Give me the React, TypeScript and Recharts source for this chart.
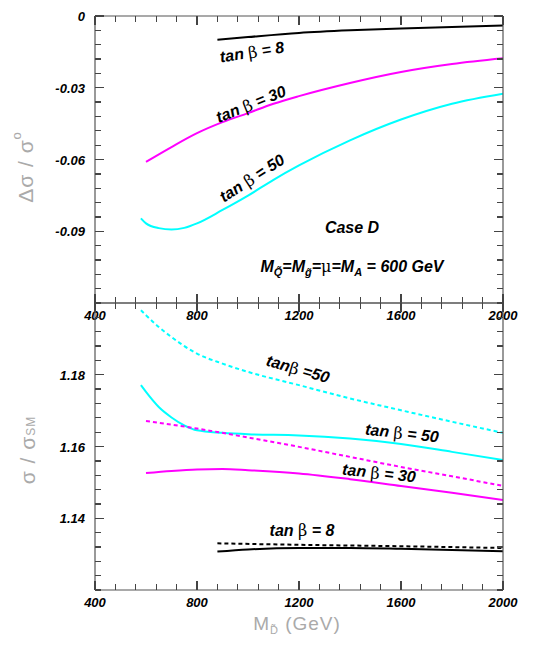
import React from "react";
import { LineChart, Line, XAxis, YAxis } from "recharts";

// ---------- data ----------
const xTicks = [400, 480, 560, 640, 720, 800, 880, 960, 1040, 1120, 1200, 1280, 1360, 1440, 1520, 1600, 1680, 1760, 1840, 1920, 2000];
const xLabels = [400, 800, 1200, 1600, 2000];

const topYTicks = Array.from({ length: 21 }, (_, i) => +(-0.12 + i * 0.006).toFixed(3));
const topYLabels = [0, -0.03, -0.06, -0.09];
const botYTicks = Array.from({ length: 21 }, (_, i) => +(1.12 + i * 0.004).toFixed(3));
const botYLabels = [1.14, 1.16, 1.18];

// top panel: Δσ/σ°
const topTb8X = [880, 1000, 1200, 1400, 1600, 1800, 2000];
const topTb8Y = [-0.0099, -0.0088, -0.0071, -0.006, -0.0052, -0.0046, -0.004];
const topTb30X = [600, 700, 800, 900, 1000, 1100, 1200, 1400, 1600, 1800, 2000];
const topTb30Y = [-0.061, -0.0548, -0.049, -0.0444, -0.0406, -0.0367, -0.0335, -0.028, -0.0234, -0.0201, -0.0177];
const topTb50X = [580, 600, 650, 700, 750, 800, 900, 1000, 1100, 1200, 1400, 1600, 1800, 2000];
const topTb50Y = [-0.0846, -0.0867, -0.0887, -0.0893, -0.0886, -0.0867, -0.0811, -0.0751, -0.0685, -0.0625, -0.052, -0.0433, -0.0367, -0.0325];

// bottom panel: σ/σSM
const bot50dX = [580, 600, 650, 700, 800, 900, 1000, 1200, 1400, 1600, 1800, 2000];
const bot50dY = [1.198, 1.1966, 1.1933, 1.1905, 1.1859, 1.1831, 1.1808, 1.1771, 1.1734, 1.1701, 1.1669, 1.1638];
const bot50sX = [580, 600, 650, 700, 750, 800, 900, 1000, 1200, 1400, 1600, 1800, 2000];
const bot50sY = [1.1771, 1.1752, 1.171, 1.1681, 1.1659, 1.1645, 1.1638, 1.1634, 1.1631, 1.1622, 1.1607, 1.1585, 1.1562];
const bot30dX = [600, 800, 1000, 1200, 1400, 1600, 1800, 2000];
const bot30dY = [1.1671, 1.165, 1.1625, 1.1599, 1.1571, 1.1543, 1.1517, 1.149];
const bot30sX = [600, 700, 800, 900, 1000, 1200, 1400, 1600, 1800, 2000];
const bot30sY = [1.1526, 1.1532, 1.1536, 1.1537, 1.1534, 1.1525, 1.1509, 1.149, 1.1471, 1.1451];
const bot8dX = [880, 1200, 1600, 2000];
const bot8dY = [1.133, 1.1326, 1.1322, 1.1317];
const bot8sX = [880, 1000, 1200, 1400, 1600, 2000];
const bot8sY = [1.1307, 1.1313, 1.1317, 1.1317, 1.1315, 1.1308];

const zip = (xs: number[], ys: number[]) => xs.map((x, i) => ({ x, y: ys[i] }));

// ---------- styles ----------
const FONT = "'Liberation Sans', Arial, Helvetica, sans-serif";
const FRAME = "#555";
const TICK = "#444";
const CYAN = "#00ffff";
const MAGENTA = "#ff00ff";
const MAJ = 9;
const MIN = 6;

const isLabel = (list: number[], v: number) => list.some((l) => Math.abs(l - v) < 1e-9);
const fmtY = (v: number) => (v === 0 ? "0" : v.toFixed(2));

const tickLineStyle = { stroke: TICK, strokeWidth: 1.3, shapeRendering: "crispEdges" as const };

const BottomXTick = (props: any) => {
  const { x, y, payload, showLabel } = props;
  const v = payload.value;
  const major = isLabel(xLabels, v);
  return (
    <g>
      <line x1={x} x2={x} y1={y} y2={y - (major ? MAJ : MIN)} {...tickLineStyle} />
      {showLabel && major && (
        <text x={x} y={y + 17} textAnchor="middle" fontFamily={FONT} fontWeight="bold" fontStyle="italic" fontSize={13} fill="#000">
          {v}
        </text>
      )}
    </g>
  );
};

const TopXTick = (props: any) => {
  const { x, y, payload } = props;
  const major = isLabel(xLabels, payload.value);
  return (
    <g>
      <line x1={x} x2={x} y1={y} y2={y + (major ? MAJ : MIN)} {...tickLineStyle} />
    </g>
  );
};

const makeLeftTick = (labels: number[]) => (props: any) => {
  const { x, y, payload } = props;
  const v = payload.value;
  const lab = isLabel(labels, v);
  return (
    <g>
      <line x1={x} x2={x + (lab ? MAJ : MIN)} y1={y} y2={y} {...tickLineStyle} />
      {lab && (
        <text x={x - 10} y={y + 5} textAnchor="end" fontFamily={FONT} fontWeight="bold" fontStyle="italic" fontSize={13} fill="#000">
          {fmtY(v)}
        </text>
      )}
    </g>
  );
};

const makeRightTick = (labels: number[]) => (props: any) => {
  const { x, y, payload } = props;
  const lab = isLabel(labels, payload.value);
  return (
    <g>
      <line x1={x} x2={x - (lab ? MAJ : MIN)} y1={y} y2={y} {...tickLineStyle} />
    </g>
  );
};

const TopLeftTick = makeLeftTick(topYLabels);
const TopRightTick = makeRightTick(topYLabels);
const BotLeftTick = makeLeftTick(botYLabels);
const BotRightTick = makeRightTick(botYLabels);

const lineProps = {
  dataKey: "y",
  type: "monotone" as const,
  dot: false,
  isAnimationActive: false,
  strokeWidth: 2,
  activeDot: false as const,
};

const axisCommon = {
  tickSize: 0,
  tickMargin: 0,
  axisLine: { stroke: FRAME, strokeWidth: 1.2 },
  tickLine: false,
  interval: 0 as const,
  allowDataOverflow: true,
};

const Frame = ({ yDomain, yTicks, LeftTick, RightTick }: any) => [
  <XAxis key="xb" xAxisId="b" type="number" dataKey="x" domain={[400, 2000]} ticks={xTicks} height={1} tick={<BottomXTick showLabel />} {...axisCommon} />,
  <XAxis key="xt" xAxisId="t" orientation="top" type="number" dataKey="x" domain={[400, 2000]} ticks={xTicks} height={1} tick={<TopXTick />} {...axisCommon} />,
  <YAxis key="yl" yAxisId="l" type="number" domain={yDomain} ticks={yTicks} width={1} tick={<LeftTick />} {...axisCommon} />,
  <YAxis key="yr" yAxisId="r" orientation="right" type="number" domain={yDomain} ticks={yTicks} width={1} tick={<RightTick />} {...axisCommon} />,
];

const Annot = ({ x, y, angle = 0, children, size = 16 }: any) => (
  <text
    x={x}
    y={y}
    textAnchor="middle"
    dominantBaseline="central"
    transform={`rotate(${angle} ${x} ${y})`}
    fontFamily={FONT}
    fontWeight="bold"
    fontStyle="italic"
    fontSize={size}
    fill="#000"
  >
    {children}
  </text>
);

const Beta = () => (
  <tspan fontFamily="'DejaVu Serif', 'Liberation Serif', serif" fontStyle="normal" fontWeight="normal">
    β
  </tspan>
);

export default function App() {
  return (
    <div style={{ position: "absolute", left: 0, top: 0, width: 545, height: 659, background: "#fff" }}>
      {/* top panel */}
      <div style={{ position: "absolute", left: 0, top: 0 }}>
        <LineChart width={545} height={330} margin={{ top: 15, right: 41, bottom: 26, left: 94 }}>
          {Frame({ yDomain: [-0.12, 0], yTicks: topYTicks, LeftTick: TopLeftTick, RightTick: TopRightTick })}
          <Line {...lineProps} xAxisId="b" yAxisId="l" data={zip(topTb8X, topTb8Y)} stroke="#000" />
          <Line {...lineProps} xAxisId="b" yAxisId="l" data={zip(topTb30X, topTb30Y)} stroke={MAGENTA} />
          <Line {...lineProps} xAxisId="b" yAxisId="l" data={zip(topTb50X, topTb50Y)} stroke={CYAN} />
        </LineChart>
      </div>

      {/* bottom panel */}
      <div style={{ position: "absolute", left: 0, top: 290 }}>
        <LineChart width={545} height={330} margin={{ top: 12, right: 41, bottom: 29, left: 94 }}>
          {Frame({ yDomain: [1.12, 1.2], yTicks: botYTicks, LeftTick: BotLeftTick, RightTick: BotRightTick })}
          <Line {...lineProps} xAxisId="b" yAxisId="l" data={zip(bot50dX, bot50dY)} stroke={CYAN} strokeDasharray="4 3" />
          <Line {...lineProps} xAxisId="b" yAxisId="l" data={zip(bot50sX, bot50sY)} stroke={CYAN} />
          <Line {...lineProps} xAxisId="b" yAxisId="l" data={zip(bot30dX, bot30dY)} stroke={MAGENTA} strokeDasharray="4 3" />
          <Line {...lineProps} xAxisId="b" yAxisId="l" data={zip(bot30sX, bot30sY)} stroke={MAGENTA} />
          <Line {...lineProps} xAxisId="b" yAxisId="l" data={zip(bot8dX, bot8dY)} stroke="#000" strokeDasharray="4 3" />
          <Line {...lineProps} xAxisId="b" yAxisId="l" data={zip(bot8sX, bot8sY)} stroke="#000" />
        </LineChart>
      </div>

      {/* annotations and titles */}
      <svg width={545} height={659} style={{ position: "absolute", left: 0, top: 0, pointerEvents: "none" }}>
        <Annot x={252} y={52} angle={-9}>tan <Beta /> = 8</Annot>
        <Annot x={251} y={104} angle={-22}>tan <Beta /> = 30</Annot>
        <Annot x={252} y={178} angle={-33}>tan <Beta /> = 50</Annot>
        <Annot x={352} y={227}>Case D</Annot>
        <text x={352} y={272} textAnchor="middle" fontFamily={FONT} fontWeight="bold" fontStyle="italic" fontSize={16} fill="#000">
          M<tspan fontSize={11} dy={4}>Q̃</tspan>
          <tspan dy={-4}>=M</tspan>
          <tspan fontSize={11} dy={4}>g̃</tspan>
          <tspan dy={-4}>=</tspan>
          <tspan fontFamily="'DejaVu Serif', serif" fontStyle="normal" fontWeight="normal">μ</tspan>
          <tspan>=M</tspan>
          <tspan fontSize={11} dy={4}>A</tspan>
          <tspan dy={-4}> = 600 GeV</tspan>
        </text>

        <Annot x={298} y={369} angle={16}>tan<Beta /> =50</Annot>
        <Annot x={402} y={433} angle={6}>tan <Beta /> = 50</Annot>
        <Annot x={379} y={473} angle={6}>tan <Beta /> = 30</Annot>
        <Annot x={302} y={530}>tan <Beta /> = 8</Annot>

        {/* y titles */}
        <text
          x={25}
          y={167}
          textAnchor="middle"
          dominantBaseline="central"
          transform="rotate(-90 25 167)"
          fontFamily={FONT}
          fontSize={21}
          letterSpacing={1}
          fill="#aaa"
        >
          Δσ / σ<tspan fontSize={13} dy={-9}>o</tspan>
        </text>
        <text
          x={27}
          y={450}
          textAnchor="middle"
          dominantBaseline="central"
          transform="rotate(-90 27 450)"
          fontFamily={FONT}
          fontSize={21}
          letterSpacing={1}
          fill="#aaa"
        >
          σ / σ<tspan fontSize={12} dy={4}>SM</tspan>
        </text>
        {/* x title */}
        <text x={297} y={630} textAnchor="middle" fontFamily={FONT} fontSize={19} letterSpacing={1} fill="#aaa">
          M<tspan fontSize={11} dy={4}>D̃</tspan>
          <tspan dy={-4}> (GeV)</tspan>
        </text>
      </svg>
    </div>
  );
}
